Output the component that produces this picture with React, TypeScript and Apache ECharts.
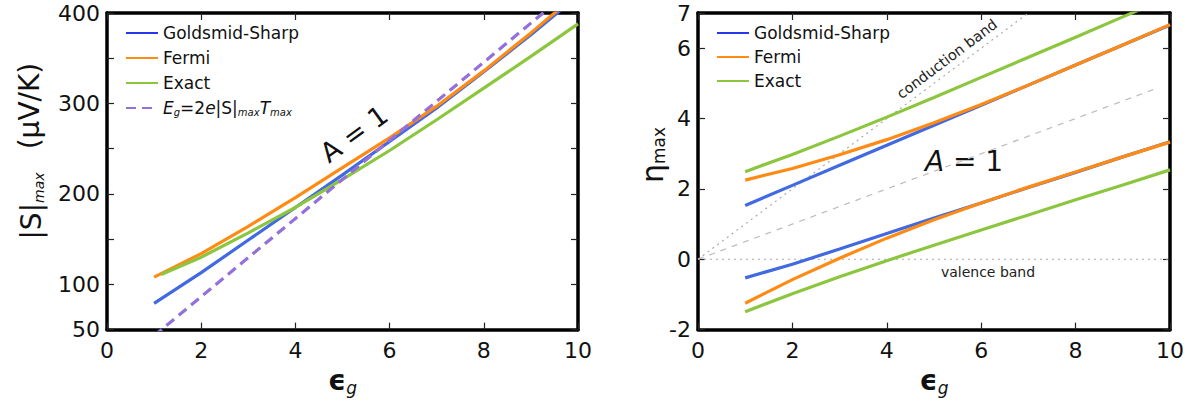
import React, { useEffect, useRef } from 'react';
import * as echarts from 'echarts';

// ---------- data ----------
const eps = [1, 2, 3, 4, 5, 6, 7, 8, 9, 10];

// left panel: |S|max (μV/K)
const sGoldsmid = [79, 113, 149, 185, 221, 258, 295, 335, 376, 419];
const sFermi = [108, 134, 164, 196, 229, 262, 297, 336, 378, 422];
const epsExactLeft = [1.15, 2, 3, 4, 5, 6, 7, 8, 9, 10];
const sExact = [111, 130, 157, 185, 216, 248, 282, 317, 352, 388];
const epsBandgap = [1, 10];
const sBandgap = [43.2, 432];
const leftYTickLabels = [50, 100, 200, 300, 400];

// right panel: eta max
const etaGsUpper = [1.53, 2.1, 2.67, 3.24, 3.81, 4.38, 4.95, 5.52, 6.09, 6.66];
const etaGsLower = [-0.53, -0.14, 0.29, 0.73, 1.17, 1.6, 2.04, 2.47, 2.91, 3.34];
const etaFermiUpper = [2.25, 2.58, 2.97, 3.4, 3.88, 4.4, 4.95, 5.52, 6.09, 6.67];
const etaFermiLower = [-1.25, -0.58, 0.03, 0.6, 1.12, 1.6, 2.05, 2.48, 2.91, 3.33];
const etaExactUpper = [2.49, 2.98, 3.5, 4.04, 4.6, 5.17, 5.74, 6.31, 6.89, 7.46];
const etaExactLower = [-1.49, -0.98, -0.5, -0.04, 0.4, 0.83, 1.26, 1.69, 2.11, 2.54];
const condBandX = [0, 7];
const condBandY = [0, 7];
const midGapX = [0, 9.75];
const midGapY = [0, 4.875];
const valBandX = [0, 10];
const valBandY = [0, 0];

const names = ['Goldsmid-Sharp', 'Fermi', 'Exact'];
const bandgapName = 'Eg=2e|S|maxTmax';

const FONT = 'DejaVu Sans';
const BLUE = '#4169E1';
const LEGEND_BLUE = '#2638EE';
const ORANGE = '#FF8A14';
const GREEN = '#8CC63F';
const PURPLE = '#9370DB';

const pairs = (xs: number[], ys: number[]) => xs.map((x, i) => [x, ys[i]]);

function App() {
  const ref = useRef<HTMLDivElement>(null);
  useEffect(() => {
    if (!ref.current) return;
    const chart = echarts.init(ref.current, null, { renderer: 'svg' });

    const axisLine = { show: true, onZero: false, lineStyle: { color: '#000', width: 3.5 } };
    const axisTick = { show: true, inside: true, length: 7, lineStyle: { color: '#222', width: 1.2 } };
    const label = { fontSize: 22, color: '#111', fontFamily: FONT };
    const xName = '{e|ϵ}{g|g}';
    const xNameStyle = {
      rich: {
        e: { fontSize: 28, fontWeight: 'bold', fontFamily: FONT, color: '#111', lineHeight: 30 },
        g: { fontSize: 17, fontStyle: 'italic', fontFamily: FONT, color: '#111', padding: [14, 0, 0, 0] },
      },
    };

    const mkX = (gi: number, bottom: boolean) => ({
      type: 'value', gridIndex: gi, min: 0, max: 10, interval: 2,
      position: bottom ? 'bottom' : 'top',
      axisLine, axisTick,
      axisLabel: bottom ? { ...label, margin: 10 } : { show: false },
      splitLine: { show: false },
      ...(bottom ? { name: xName, nameLocation: 'middle', nameGap: 22, nameTextStyle: xNameStyle } : {}),
    });

    const lineSeries = (name: string, data: number[][], color: string, xi: number, yi: number, extra: any = {}) => ({
      type: 'line', name, data, xAxisIndex: xi, yAxisIndex: yi,
      symbol: 'none', showSymbol: false, smooth: false, silent: true,
      lineStyle: { color, width: 3.2, ...(extra.lineStyle || {}) },
      itemStyle: { color },
    });

    const refLine = (name: string, data: number[][], type: any, color: string) => ({
      type: 'line', name, data, xAxisIndex: 2, yAxisIndex: 2, symbol: 'none', silent: true,
      lineStyle: { color, width: 1.2, type }, z: 1,
    });

    const legendRich = {
      n: { fontSize: 17, fontFamily: FONT, color: '#111' },
      i: { fontSize: 17, fontFamily: FONT, fontStyle: 'italic', color: '#111' },
      s: { fontSize: 10, fontFamily: FONT, fontStyle: 'italic', color: '#111', padding: [9, 0, 0, 0] },
    };
    const legendFormatter = (name: string) =>
      name === bandgapName
        ? '{i|E}{s|g}{n|=2}{i|e}{n||S|}{s|max}{i|T}{s|max}'
        : `{n|${name}}`;
    const legendItemStyle = { color: 'rgba(0,0,0,0)', borderColor: 'rgba(0,0,0,0)', borderWidth: 0 };
    const legendData = (withBandgap: boolean) => [
      { name: names[0], lineStyle: { color: LEGEND_BLUE } },
      names[1],
      names[2],
      ...(withBandgap ? [bandgapName] : []),
    ];

    const option: any = {
      animation: false,
      textStyle: { fontFamily: FONT },
      grid: [
        { left: 107, right: 1187 - 578, top: 13, bottom: 401 - 333, containLabel: false },
        { left: 698, right: 1187 - 1170, top: 13, bottom: 401 - 333, containLabel: false },
      ],
      xAxis: [mkX(0, true), mkX(0, false), mkX(1, true), mkX(1, false)],
      yAxis: [
        {
          type: 'value', gridIndex: 0, min: 50, max: 400, interval: 50, position: 'left',
          axisLine, axisTick, splitLine: { show: false },
          axisLabel: {
            ...label, margin: 7,
            formatter: (v: number) => (leftYTickLabels.includes(v) ? String(v) : ''),
          },
        },
        {
          type: 'value', gridIndex: 0, min: 50, max: 400, interval: 50, position: 'right',
          axisLine, axisTick, splitLine: { show: false }, axisLabel: { show: false },
        },
        {
          type: 'value', gridIndex: 1, min: -2, max: 7, interval: 2, position: 'left',
          axisLine, axisTick, splitLine: { show: false },
          axisLabel: { ...label, margin: 7 },
        },
        {
          type: 'value', gridIndex: 1, min: -2, max: 7, interval: 2, position: 'right',
          axisLine, axisTick, splitLine: { show: false }, axisLabel: { show: false },
        },
      ],
      legend: [
        {
          left: 120, top: 18, orient: 'vertical', itemWidth: 32, itemHeight: 12, itemGap: 5,
          selectedMode: false, data: legendData(true),
          formatter: legendFormatter, itemStyle: legendItemStyle,
          textStyle: { fontSize: 17, lineHeight: 20, color: '#111', fontFamily: FONT, rich: legendRich },
        },
        {
          left: 711, top: 18, orient: 'vertical', itemWidth: 32, itemHeight: 12, itemGap: 4,
          selectedMode: false, data: legendData(false),
          formatter: legendFormatter, itemStyle: legendItemStyle,
          textStyle: { fontSize: 17, lineHeight: 20, color: '#111', fontFamily: FONT, rich: legendRich },
        },
      ],
      series: [
        // left panel
        lineSeries(names[0], pairs(eps, sGoldsmid), BLUE, 0, 0),
        lineSeries(names[1], pairs(eps, sFermi), ORANGE, 0, 0),
        lineSeries(names[2], pairs(epsExactLeft, sExact), GREEN, 0, 0),
        lineSeries(bandgapName, pairs(epsBandgap, sBandgap), PURPLE, 0, 0, { lineStyle: { type: [10, 6] } }),
        // right panel reference lines
        refLine('conduction band', pairs(condBandX, condBandY), [2, 4], '#aaa'),
        refLine('midgap', pairs(midGapX, midGapY), [6, 6], '#bbb'),
        refLine('valence band', pairs(valBandX, valBandY), [2, 4], '#aaa'),
        // right panel
        lineSeries(names[0], pairs(eps, etaGsUpper), BLUE, 2, 2),
        lineSeries(names[0], pairs(eps, etaGsLower), BLUE, 2, 2),
        lineSeries(names[1], pairs(eps, etaFermiUpper), ORANGE, 2, 2),
        lineSeries(names[1], pairs(eps, etaFermiLower), ORANGE, 2, 2),
        lineSeries(names[2], pairs(eps, etaExactUpper), GREEN, 2, 2),
        lineSeries(names[2], pairs(eps, etaExactLower), GREEN, 2, 2),
      ],
      graphic: [
        {
          type: 'text', x: 29, y: 106, rotation: Math.PI / 2,
          style: {
            text: '(μV/K)', fontSize: 28, fontFamily: FONT, fill: '#111',
            align: 'center', verticalAlign: 'middle', textAlign: 'center', textVerticalAlign: 'middle',
          },
        },
        {
          type: 'text', x: 31, y: 206, rotation: Math.PI / 2,
          style: {
            text: '{a||S|}{s|max}',
            align: 'center', verticalAlign: 'middle', textAlign: 'center', textVerticalAlign: 'middle',
            rich: {
              a: { fontSize: 28, fontFamily: FONT, fill: '#111', color: '#111' },
              s: { fontSize: 14, fontStyle: 'italic', fontFamily: FONT, fill: '#111', color: '#111', padding: [16, 0, 0, 0] },
            },
          },
        },
        {
          type: 'text', x: 652, y: 155, rotation: Math.PI / 2,
          style: {
            text: '{a|η}{s|max}',
            align: 'center', verticalAlign: 'middle', textAlign: 'center', textVerticalAlign: 'middle',
            rich: {
              a: { fontSize: 30, fontFamily: FONT, fill: '#111', color: '#111' },
              s: { fontSize: 17, fontFamily: FONT, fill: '#111', color: '#111', padding: [14, 0, 0, 0] },
            },
          },
        },
        {
          type: 'text', x: 354, y: 134, rotation: (36 * Math.PI) / 180,
          style: {
            text: 'A = 1', fontSize: 27, fontFamily: FONT, fill: '#111',
            align: 'center', verticalAlign: 'middle', textAlign: 'center', textVerticalAlign: 'middle',
          },
        },
        {
          type: 'text', x: 964, y: 161,
          style: {
            text: '{i|A}{r| = 1}',
            align: 'center', verticalAlign: 'middle', textAlign: 'center', textVerticalAlign: 'middle',
            rich: {
              i: { fontSize: 28, fontStyle: 'italic', fontFamily: FONT, fill: '#111', color: '#111' },
              r: { fontSize: 28, fontFamily: FONT, fill: '#111', color: '#111' },
            },
          },
        },
        {
          type: 'text', x: 947, y: 59, rotation: (37 * Math.PI) / 180,
          style: {
            text: 'conduction band', fontSize: 14.5, fontFamily: FONT, fill: '#222',
            align: 'center', verticalAlign: 'middle', textAlign: 'center', textVerticalAlign: 'middle',
          },
        },
        {
          type: 'text', x: 988, y: 272,
          style: {
            text: 'valence band', fontSize: 14, fontFamily: FONT, fill: '#222',
            align: 'center', verticalAlign: 'middle', textAlign: 'center', textVerticalAlign: 'middle',
          },
        },
      ],
    };

    chart.setOption(option);
    return () => chart.dispose();
  }, []);

  return (
    <div
      ref={ref}
      style={{ position: 'fixed', left: 0, top: 0, width: 1187, height: 401, background: '#fff' }}
    />
  );
}

export default App;
